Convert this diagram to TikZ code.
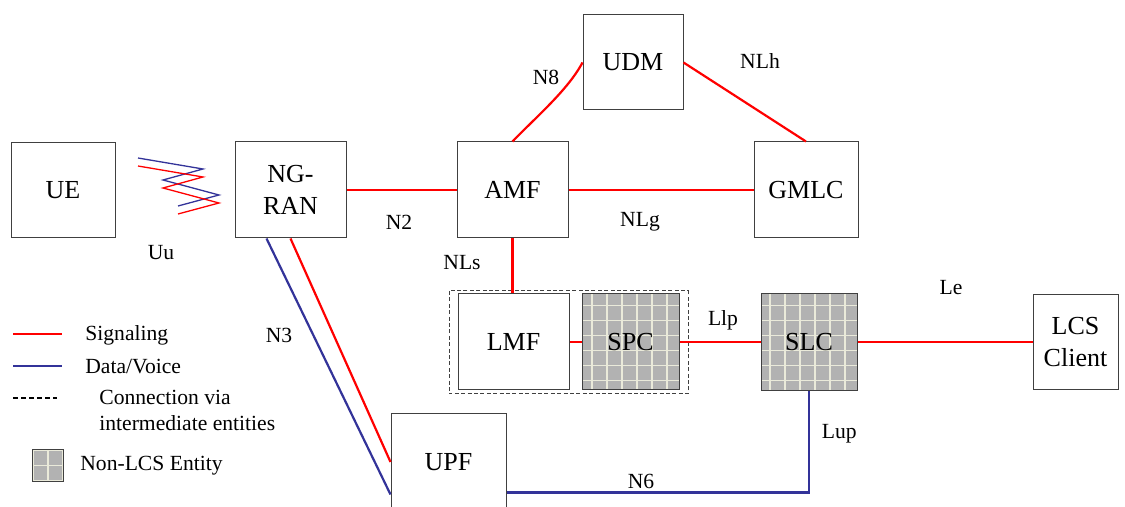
\documentclass[tikz,border=0pt]{standalone}
\usepackage{fontspec}
\setmainfont{Liberation Serif}
\usetikzlibrary{calc,positioning}
\definecolor{sigred}{RGB}{255,0,0}
\definecolor{datblue}{RGB}{51,51,153}
\definecolor{cellgray}{RGB}{178,178,178}
\definecolor{cellline}{RGB}{234,234,218}
\begin{document}
\begin{tikzpicture}[x=0.5pt, y=-0.5pt]
\tikzstyle{ent}=[rectangle, draw=black!75, line width=0.5pt, fill=white,
                 inner sep=1pt, align=center, font=\fontsize{13}{15.8}\selectfont]
\tikzstyle{nonlcs}=[ent, fill=cellgray, path picture={\draw[cellline, line width=0.9pt, step=7.5pt]
                 (path picture bounding box.south west) grid (path picture bounding box.north east);}]
\tikzstyle{sg}=[sigred, line width=1.1pt]
\tikzstyle{dv}=[datblue, line width=1.1pt]
\tikzstyle{lbl}=[inner sep=1pt, font=\fontsize{10.8}{13}\selectfont]
\useasboundingbox (0,0) rectangle (1125,507);
% network entities
\node[ent, minimum width=52pt, minimum height=47.5pt] (UE) at (63,190.5) {UE};
\node[ent, minimum width=55.5pt, minimum height=48pt] (NGRAN) at (290.5,190) {NG-\\RAN};
\node[ent, minimum width=55.5pt, minimum height=48pt] (AMF) at (512.5,190) {AMF};
\node[ent, minimum width=50pt, minimum height=47.5pt] (UDM) at (633,62.5) {UDM};
\node[ent, minimum width=52pt, minimum height=48pt] (GMLC) at (806,190) {GMLC};
\node[ent, minimum width=55.5pt, minimum height=48pt] (LMF) at (513.5,342) {LMF};
\node[nonlcs, minimum width=48.5pt, minimum height=48pt] (SPC) at (630.5,342) {SPC};
\node[nonlcs, minimum width=48pt, minimum height=48.5pt] (SLC) at (809,342) {SLC};
\node[ent, minimum width=42.5pt, minimum height=47.5pt] (LCS) at (1075.5,342) {LCS\\Client};
\node[ent, minimum width=57.5pt, minimum height=48pt] (UPF) at (448.5,462) {UPF};
\draw[black!75, line width=0.5pt, dash pattern=on 2pt off 1.2pt] (449,291) rectangle (688,394);
% radio link
\draw[datblue, line width=0.65pt] (138,158) -- (203,169) -- (163,180) -- (219,195) -- (178,206);
\draw[sigred, line width=0.65pt] (138,166) -- (203,177) -- (163,188) -- (219,203) -- (178,214);
% signaling
\foreach \a/\b in {NGRAN/AMF,AMF/GMLC,LMF/SPC,SPC/SLC,SLC/LCS}{\draw[sg] (\a.east) -- (\b.west);}
\draw[sg] (AMF.south) -- (AMF.south |- LMF.north);
\draw[sg] (AMF.north) .. controls (535,118) and (568,90) .. (UDM.west);
\draw[sg] (UDM.east) -- (GMLC.north);
\draw[sg] (NGRAN.south) -- (UPF.west);
% data/voice
\draw[dv] ([xshift=-12pt]NGRAN.south) -- ([yshift=8pt]UPF.south west);
\draw[dv] (SLC.south) |- ([yshift=9pt]UPF.south east);
% interface labels
\node[lbl] (uu) at (161,253) {Uu};
\node[lbl] (n2) at (399,222) {N2};
\node[lbl] (nlg) at (640,222) {NLg};
\node[lbl] (nls) at (462,263) {NLs};
\node[lbl] (n8) at (546,77) {N8};
\node[lbl] (nlh) at (760,61) {NLh};
\node[lbl] (llp) at (723,320) {Llp};
\node[lbl] (le) at (951,288) {Le};
\node[lbl] (n3) at (279,335) {N3};
\node[lbl, fill=white, anchor=west, inner xsep=6pt] (lup) at (809.5,434) {Lup};
\node[lbl] (n6) at (641,481) {N6};
% legend
\draw[sg] (13,334) -- (62,334);
\node[lbl, anchor=west] (lgsig) at (83,335) {Signaling};
\draw[dv] (13,366) -- (62,366);
\node[lbl, anchor=west] (lgdat) at (83,367) {Data/Voice};
\draw[black, line width=0.6pt, dash pattern=on 2.5pt off 1.5pt] (13,398) -- (57,398);
\node[lbl, anchor=west, align=left] (lgvia) at (97,410) {Connection via\\intermediate entities};
\node[nonlcs, minimum width=15.5pt, minimum height=16pt, inner sep=0pt] (lgbox) at (48,465.5) {};
\node[lbl, anchor=west] (lgnon) at (78,466) {Non-LCS Entity};
\end{tikzpicture}
\end{document}
